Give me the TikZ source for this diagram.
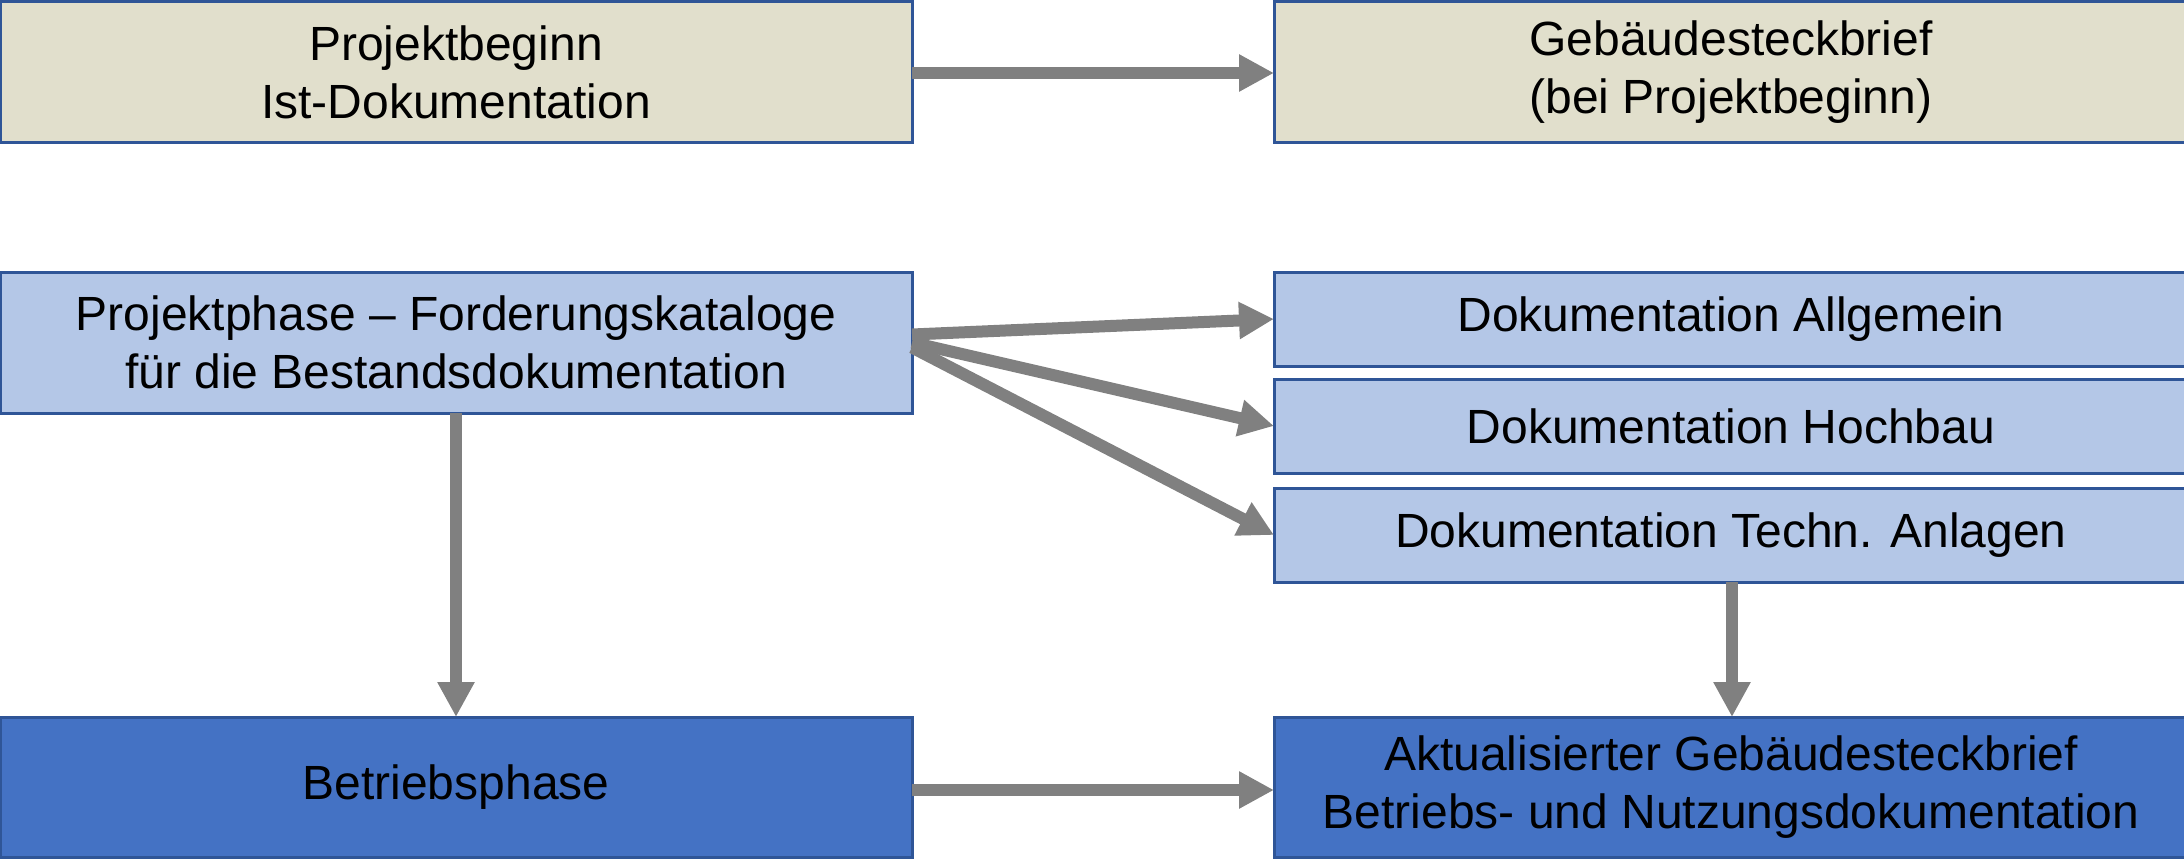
\documentclass[tikz,border=0pt]{standalone}
\usepackage{fontspec}
\setmainfont{Liberation Sans}
\usetikzlibrary{arrows.meta}
\definecolor{beige}{HTML}{E1DFCC}
\definecolor{lblue}{HTML}{B4C7E7}
\definecolor{dblue}{HTML}{4472C4}
\definecolor{bord}{HTML}{2F5597}
\definecolor{arr}{HTML}{808080}
\tikzset{
  box/.style={draw=bord, line width=3pt, inner sep=0pt, outer sep=0pt, anchor=north west,
    align=center, font=\fontsize{48}{58}\selectfont, text=black},
  wide/.style={minimum width=912pt},
  rwide/.style={minimum width=914pt},
  conn/.style={draw=arr, line width=12pt, -{Triangle[length=35pt,width=35pt]}}
}
\begin{document}
\begin{tikzpicture}[x=1pt,y=-1pt]
\useasboundingbox (0,0) rectangle (2184,859);
\node[box, wide, fill=beige, minimum height=140pt] (b1) at (0,2) {Projektbeginn\\Ist-Dokumentation};
\node[box, rwide, fill=beige, minimum height=140pt] (b2) at (1274,2) {Gebäudesteckbrief\\(bei Projektbeginn)};
\node[box, wide, fill=lblue, minimum height=141pt] (b3) at (0,272) {Projektphase – Forderungskataloge\\für die Bestandsdokumentation};
\node[box, rwide, fill=lblue, minimum height=94pt] (b4) at (1274,272) {Dokumentation Allgemein};
\node[box, rwide, fill=lblue, minimum height=94pt] (b5) at (1274,379) {Dokumentation Hochbau};
\node[box, rwide, fill=lblue, minimum height=94pt] (b6) at (1274,488) {Dokumentation Techn. Anlagen};
\node[box, wide, fill=dblue, minimum height=140pt] (b7) at (0,717) {Betriebsphase};
\node[box, rwide, fill=dblue, minimum height=140pt] (b8) at (1274,717) {Aktualisierter Gebäudesteckbrief\\Betriebs- und Nutzungsdokumentation};
\draw[conn] ([yshift=-1pt]b1.east) -- ([yshift=-1pt]b2.west);
\draw[conn] ([yshift=8pt]b3.east) -- (b4.west);
\draw[conn] (b3.east) -- (b5.west);
\draw[conn] ([yshift=-5pt]b3.east) -- (b6.west);
\draw[conn] (b3.south) -- (b7.north);
\draw[conn] ([xshift=1pt]b6.south) -- ([xshift=1pt]b8.north);
\draw[conn] ([yshift=-3pt]b7.east) -- ([yshift=-3pt]b8.west);
\end{tikzpicture}
\end{document}
